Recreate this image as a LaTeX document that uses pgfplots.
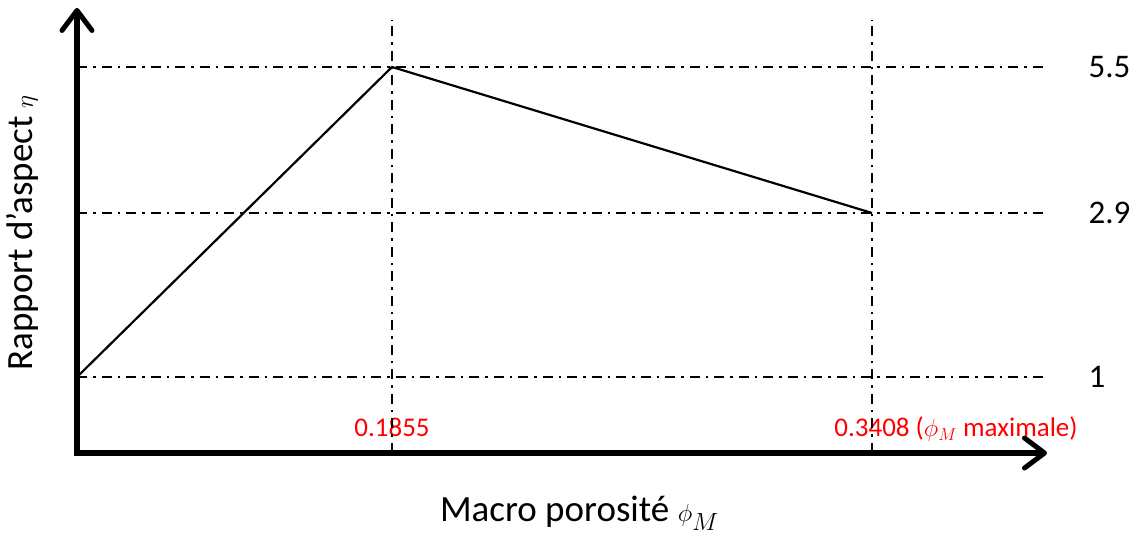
\documentclass[border=0pt]{standalone}
\usepackage{pgfplots}
\pgfplotsset{compat=1.18}
\usepackage{fontspec}
\setmainfont{Carlito}
\usetikzlibrary{arrows.meta}

% schematic chart: axis units are positions on the sketch, ticks carry the real values
\begin{document}
\begin{tikzpicture}
\begin{axis}[
  x=1pt, y=1pt,
  xmin=0, xmax=970,
  ymin=0, ymax=445,
  clip=false,
  axis x line=bottom,
  axis y line=left,
  axis line style={line width=6pt, line cap=rect,
    -{Straight Barb[length=20pt, width=30pt, line width=5pt, round]}},
  major tick length=0pt,
  xtick={315,795},
  xticklabels={0.1855, {0.3408\rlap{ ($\phi_M$ maximale)}}},
  xticklabel style={red, font=\fontsize{27}{30}\selectfont, anchor=base, yshift=16pt},
  ytick={76,240,386},
  yticklabels={1,2.9,5.5},
  yticklabel style={anchor=west, xshift=1008pt, font=\fontsize{33}{38}\selectfont},
  xlabel={Macro porosité $\phi_M$},
  xlabel style={at={(axis description cs:0.518,-0.155)}, anchor=base,
    font=\fontsize{37}{42}\selectfont},
  ylabel={Rapport d’aspect $\eta$},
  ylabel style={at={(axis description cs:-0.0454,0.495)}, anchor=base,
    font=\fontsize{37}{42}\selectfont},
]
% dash-dot guide lines
\addplot[black, line width=1.6pt, dash pattern=on 10pt off 6pt on 2.5pt off 6pt]
  coordinates {(0,386) (966,386)};
\addplot[black, line width=1.6pt, dash pattern=on 10pt off 6pt on 2.5pt off 6pt]
  coordinates {(0,240) (966,240)};
\addplot[black, line width=1.6pt, dash pattern=on 10pt off 6pt on 2.5pt off 6pt]
  coordinates {(0,76) (966,76)};
\addplot[black, line width=1.6pt, dash pattern=on 10pt off 6pt on 2.5pt off 6pt]
  coordinates {(315,0) (315,433)};
\addplot[black, line width=1.6pt, dash pattern=on 10pt off 6pt on 2.5pt off 6pt]
  coordinates {(795,0) (795,433)};

% aspect ratio vs macro porosity
\addplot[black, line width=2.2pt] coordinates {(0,76) (315,386) (795,240)};

\path (axis cs:-77,-81) rectangle (axis cs:1062,453);
\end{axis}
\end{tikzpicture}
\end{document}
